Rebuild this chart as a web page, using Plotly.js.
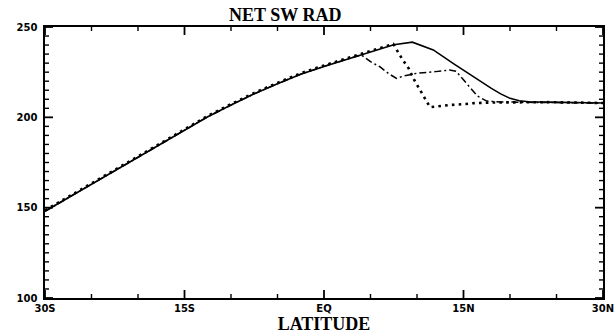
<!DOCTYPE html>
<html>
<head>
<meta charset="utf-8">
<script src="https://cdn.plot.ly/plotly-3.0.1.min.js"></script>
<style>
  html, body { margin: 0; padding: 0; background: #fff; }
  #chart { width: 616px; height: 335px; }
</style>
</head>
<body>
<div id="chart"></div>
<script>
// ---- data ----
const xTickVals = [-30, -15, 0, 15, 30];
const xTickText = ['30S', '15S', 'EQ', '15N', '30N'];
const yTickVals = [100, 150, 200, 250];
const xMinorStep = 5;
const yMinorStep = 5;

const latSolid = [-30, -27.5, -25, -22.5, -20, -17.5, -15, -12.5, -10, -7.5, -5, -2.5, 0, 2.5, 5, 7.5, 9.5, 11.75, 14, 16, 17, 18, 19, 20, 21, 22, 24, 27, 30];
const solidVals = [148, 155.5, 163, 170.5, 178, 185.7, 193.2, 200.3, 206.8, 213, 218.6, 223.9, 228.2, 232.3, 236.4, 240.2, 241.6, 237.3, 229.5, 222.5, 219.5, 216, 213, 210.5, 209.2, 208.6, 208.4, 208.2, 207.9];

const latDashDot = [-30, -27.5, -25, -22.5, -20, -17.5, -15, -12.5, -10, -7.5, -5, -2.5, 0, 2.5, 4, 5, 6, 7, 7.8, 8.5, 10, 12, 13.5, 14.2, 15, 16.5, 17.5, 19, 22, 26, 30];
const dashDotVals = [148, 155.5, 163, 170.5, 178, 185.7, 193.2, 200.3, 206.8, 213, 218.6, 223.9, 228.2, 232.3, 234.6, 230.8, 228, 224, 221.6, 222.8, 224.4, 225.3, 226.2, 225.5, 220.7, 211.8, 209, 208.5, 208.3, 208.2, 207.9];

const latDotted = [-30, -27.5, -25, -22.5, -20, -17.5, -15, -12.5, -10, -7.5, -5, -2.5, 0, 2.5, 5, 7.45, 8.4, 9.1, 9.7, 10.3, 10.9, 11.4, 12, 13.4, 15.3, 16, 18, 20, 24, 27, 30];
const dottedVals = [148.5, 156, 163.5, 171, 178.5, 186.2, 193.7, 200.8, 207.3, 213.5, 219.1, 224.4, 228.7, 232.8, 236.9, 240.6, 232.3, 227.1, 220.7, 215.1, 209.6, 205.6, 205.9, 206.8, 207.4, 207.8, 208.2, 208.4, 208.4, 208.2, 207.9];

// map numeric tick values to their text labels (Plotly formats negatives with U+2212)
const xAlias = {};
xTickVals.forEach((v, i) => {
  xAlias[String(v)] = xTickText[i];
  xAlias[String(v).replace('-', '\u2212')] = xTickText[i];
});

const W = 616, H = 335;
const M = { l: 45, r: 13, t: 27, b: 37 };
const xRange = [xTickVals[0], xTickVals[xTickVals.length - 1]];
const yRange = [yTickVals[0], yTickVals[yTickVals.length - 1]];
// pixel -> data-unit conversions for tick lengths
const dxPerPx = (xRange[1] - xRange[0]) / (W - M.l - M.r);
const dyPerPx = (yRange[1] - yRange[0]) / (H - M.t - M.b);

function range(a, b, step) { const out = []; for (let v = a; v <= b + 1e-9; v += step) out.push(v); return out; }

// inside tick marks on all four sides, drawn as line segments on the axes' own scales
function tickTrace(major) {
  const tx = [], ty = [];
  const lenPx = major ? 8 : 4;
  range(xRange[0], xRange[1], xMinorStep).forEach(v => {
    if (xTickVals.includes(v) !== major) return;
    const d = lenPx * dyPerPx;
    tx.push(v, v, null, v, v, null);
    ty.push(yRange[0], yRange[0] + d, null, yRange[1], yRange[1] - d, null);
  });
  range(yRange[0], yRange[1], yMinorStep).forEach(v => {
    if (yTickVals.includes(v) !== major) return;
    const d = lenPx * dxPerPx;
    tx.push(xRange[0], xRange[0] + d, null, xRange[1], xRange[1] - d, null);
    ty.push(v, v, null, v, v, null);
  });
  return { x: tx, y: ty, mode: 'lines', hoverinfo: 'skip', connectgaps: false, cliponaxis: false,
           line: { color: '#000', width: major ? 1.8 : 1.4 } };
}

const traces = [
  tickTrace(false),
  tickTrace(true),
  { x: latDashDot, y: dashDotVals, mode: 'lines', line: { color: '#000', width: 1.5, dash: '7px,3px,2px,3px' } },
  { x: latDotted, y: dottedVals, mode: 'lines', line: { color: '#000', width: 2.6, dash: '2.6px,4.2px' } },
  { x: latSolid, y: solidVals, mode: 'lines', line: { color: '#000', width: 1.6 } }
];

const tickFont = { family: 'DejaVu Sans', size: 10, color: '#000', weight: 700 };
const titleFont = { family: 'Liberation Serif', size: 18, color: '#000', weight: 700 };

const layout = {
  width: W, height: H,
  margin: { l: M.l, r: M.r, t: M.t, b: M.b, pad: 0 },
  paper_bgcolor: '#fff', plot_bgcolor: '#fff',
  showlegend: false,
  title: {
    text: 'NET SW RAD',
    font: titleFont,
    xref: 'container', yref: 'container',
    x: 0.463, xanchor: 'center',
    y: 1 - 15 / 335, yanchor: 'middle'
  },
  xaxis: {
    range: xRange,
    tickmode: 'linear', tick0: xTickVals[0], dtick: xTickVals[1] - xTickVals[0],
    labelalias: xAlias,
    ticks: '',
    showline: true, linecolor: '#000', linewidth: 1.6, mirror: true,
    showgrid: false, zeroline: false,
    tickfont: tickFont,
    title: { text: 'LATITUDE', font: titleFont, standoff: 5 }
  },
  yaxis: {
    range: yRange,
    tickmode: 'linear', tick0: yTickVals[0], dtick: yTickVals[1] - yTickVals[0],
    ticks: '',
    showline: true, linecolor: '#000', linewidth: 1.6, mirror: true,
    showgrid: false, zeroline: false,
    tickfont: tickFont,
    ticklabelstandoff: 4
  }
};

Plotly.newPlot('chart', traces, layout, { displayModeBar: false, staticPlot: true });
</script>
</body>
</html>
